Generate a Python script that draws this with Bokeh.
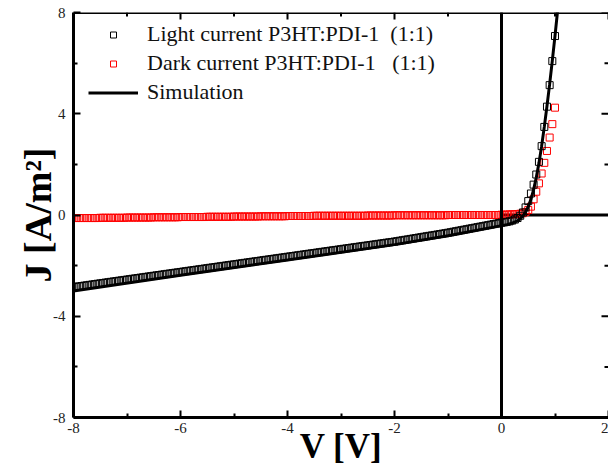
import numpy as np
from bokeh.plotting import figure
from bokeh.models import (Range1d, LinearAxis, FixedTicker, Legend,
                          LegendItem, Span)
from bokeh.embed import file_html
from bokeh.resources import INLINE

# Voltage sweep of the J-V measurement (0.05 V steps)
voltage = np.round(np.linspace(-8.0, 1.0, 181), 2)

# Light current P3HT:PDI-1 (1:1), A/m^2, one row per volt
j_light = (
    [-2.850, -2.835, -2.820, -2.805, -2.790, -2.775, -2.760, -2.745, -2.730, -2.715,
     -2.700, -2.685, -2.670, -2.655, -2.640, -2.625, -2.610, -2.595, -2.580, -2.565]
    + [-2.550, -2.535, -2.520, -2.505, -2.490, -2.475, -2.460, -2.445, -2.430, -2.415,
       -2.400, -2.385, -2.370, -2.355, -2.340, -2.325, -2.310, -2.295, -2.280, -2.265]
    + [-2.250, -2.235, -2.220, -2.205, -2.190, -2.175, -2.160, -2.145, -2.130, -2.115,
       -2.100, -2.085, -2.070, -2.055, -2.040, -2.025, -2.010, -1.995, -1.980, -1.965]
    + [-1.950, -1.935, -1.920, -1.905, -1.890, -1.875, -1.860, -1.845, -1.830, -1.815,
       -1.800, -1.785, -1.770, -1.755, -1.740, -1.725, -1.710, -1.695, -1.680, -1.665]
    + [-1.650, -1.635, -1.620, -1.605, -1.590, -1.575, -1.560, -1.545, -1.530, -1.515,
       -1.500, -1.485, -1.470, -1.455, -1.440, -1.425, -1.410, -1.395, -1.380, -1.365]
    + [-1.350, -1.335, -1.320, -1.305, -1.290, -1.275, -1.260, -1.245, -1.230, -1.215,
       -1.200, -1.185, -1.170, -1.155, -1.140, -1.125, -1.110, -1.095, -1.080, -1.065]
    + [-1.050, -1.033, -1.015, -0.998, -0.980, -0.963, -0.945, -0.928, -0.910, -0.893,
       -0.875, -0.858, -0.840, -0.823, -0.805, -0.788, -0.770, -0.753, -0.735, -0.718]
    + [-0.700, -0.680, -0.660, -0.640, -0.620, -0.600, -0.580, -0.560, -0.540, -0.520,
       -0.500, -0.480, -0.460, -0.440, -0.420, -0.400, -0.380, -0.360, -0.340, -0.320]
    + [-0.300, -0.290, -0.270, -0.250, -0.220, -0.180, -0.120, -0.030, 0.100, 0.300,
       0.550, 0.850, 1.200, 1.600, 2.100, 2.720, 3.480, 4.280, 5.130, 6.080, 7.070]
)

# Dark current P3HT:PDI-1 (1:1), A/m^2
j_dark = (
    [-0.12] * 10 + [-0.11] * 10
    + [-0.10] * 10 + [-0.09] * 10
    + [-0.08] * 10 + [-0.07] * 10
    + [-0.06] * 10 + [-0.05] * 10
    + [-0.04] * 10 + [-0.03] * 10
    + [-0.03] * 10 + [-0.02] * 10
    + [-0.01] * 10 + [-0.01] * 10
    + [0.00] * 10 + [0.00] * 10
    + [0.01, 0.01, 0.02, 0.02, 0.03, 0.03, 0.04, 0.05, 0.07, 0.12,
       0.20, 0.33, 0.62, 0.92, 1.25, 1.64, 2.06, 2.53, 3.06, 3.59, 4.24]
)

# Simulated J-V curve
sim_voltage = [-8, -6, -4, -2, -1, 0, 0.1, 0.2, 0.3, 0.35, 0.4, 0.45, 0.5,
               0.55, 0.6, 0.65, 0.7, 0.75, 0.8, 0.85, 0.9, 0.95, 1.0, 1.05]
sim_current = [-3.0, -2.38, -1.78, -1.17, -0.82, -0.42, -0.38, -0.32, -0.23,
               -0.15, -0.04, 0.12, 0.33, 0.62, 1.0, 1.48, 2.05, 2.72, 3.48,
               4.3, 5.17, 6.1, 7.08, 8.1]

x_ticks = [-8, -6, -4, -2, 0, 2]
x_tick_labels = ["-8", "-6", "-4", "-2", "0", "2"]
x_minor = [-7, -5, -3, -1, 1]
y_ticks = [-8, -4, 0, 4, 8]
y_tick_labels = ["-8", "-4", "0", "4", "8"]
y_minor = [-6, -2, 2, 6]

legend_labels = ["Light current P3HT:PDI-1  (1:1)",
                 "Dark current P3HT:PDI-1   (1:1)",
                 "Simulation"]

W, H = 608, 468
X0, X1, Y0, Y1 = -8, 2, -8, 8

p = figure(width=W, height=H, output_backend="svg", toolbar_location=None,
           x_range=Range1d(X0, X1), y_range=Range1d(Y0, Y1),
           x_axis_type=None, y_axis_type=None,
           min_border_left=73, min_border_top=12,
           min_border_bottom=50, min_border_right=0)
p.outline_line_color = None
p.background_fill_color = "white"
p.border_fill_color = "white"


def style_axis(ax, ticks, labels, minor, standoff):
    ax.ticker = FixedTicker(ticks=ticks, minor_ticks=minor)
    ax.major_label_overrides = dict(zip(ticks, labels))
    ax.axis_line_width = 3
    ax.axis_line_color = "black"
    ax.major_tick_in = 7
    ax.major_tick_out = 0
    ax.minor_tick_in = 4
    ax.minor_tick_out = 0
    ax.major_tick_line_width = 2
    ax.minor_tick_line_width = 2
    ax.major_label_text_font = "Liberation Serif"
    ax.major_label_text_color = "#222222"
    ax.major_label_text_font_size = "15px"
    ax.major_label_standoff = standoff
    ax.axis_label_text_font = "Liberation Serif"
    ax.axis_label_text_font_style = "bold"
    ax.axis_label_text_color = "black"
    return ax


x_axis = style_axis(LinearAxis(axis_label="V [V]"), x_ticks, x_tick_labels, x_minor, 5)
x_axis.axis_label_text_font_size = "35px"
x_axis.axis_label_standoff = -9
p.add_layout(x_axis, "below")

y_axis = style_axis(LinearAxis(axis_label="J [A/m²]"), y_ticks, y_tick_labels, y_minor, 8)
y_axis.axis_label_text_font_size = "38px"
y_axis.axis_label_standoff = -9
p.add_layout(y_axis, "left")

# frame top edge and the inward ticks on the top and right edges
p.add_layout(Span(location=Y1, dimension="width", line_color="black", line_width=3))
p.ray(x=x_ticks, y=Y1, length=7, angle=-np.pi / 2, length_units="screen",
      line_color="black", line_width=2)
p.ray(x=x_minor, y=Y1, length=4, angle=-np.pi / 2, length_units="screen",
      line_color="black", line_width=2)
p.ray(x=X1, y=y_ticks, length=7, angle=np.pi, length_units="screen",
      line_color="black", line_width=2)
p.ray(x=X1, y=y_minor, length=4, angle=np.pi, length_units="screen",
      line_color="black", line_width=2)

# reference lines through the origin
p.add_layout(Span(location=0, dimension="height", line_color="black", line_width=3))
p.segment(x0=[0], y0=[0], x1=[X1], y1=[0], line_color="black", line_width=3)

r_dark = p.scatter(voltage, j_dark, marker="square", size=7, fill_color=None,
                   line_color="#ff0000", line_width=1)
r_light = p.scatter(voltage, j_light, marker="square", size=7, fill_color=None,
                    line_color="black", line_width=1)
r_sim = p.line(sim_voltage, sim_current, line_color="black", line_width=3)

legend = Legend(items=[LegendItem(label=legend_labels[0], renderers=[r_light]),
                       LegendItem(label=legend_labels[1], renderers=[r_dark]),
                       LegendItem(label=legend_labels[2], renderers=[r_sim])],
                location=(15, 312), glyph_width=50, glyph_height=15,
                label_height=15, label_standoff=9, spacing=3, padding=0,
                margin=0, border_line_color=None, background_fill_alpha=0,
                label_text_font="Liberation Serif", label_text_font_size="22px",
                label_text_color="#111111")
p.add_layout(legend)

open("out.html", "w").write(file_html(p, INLINE))
